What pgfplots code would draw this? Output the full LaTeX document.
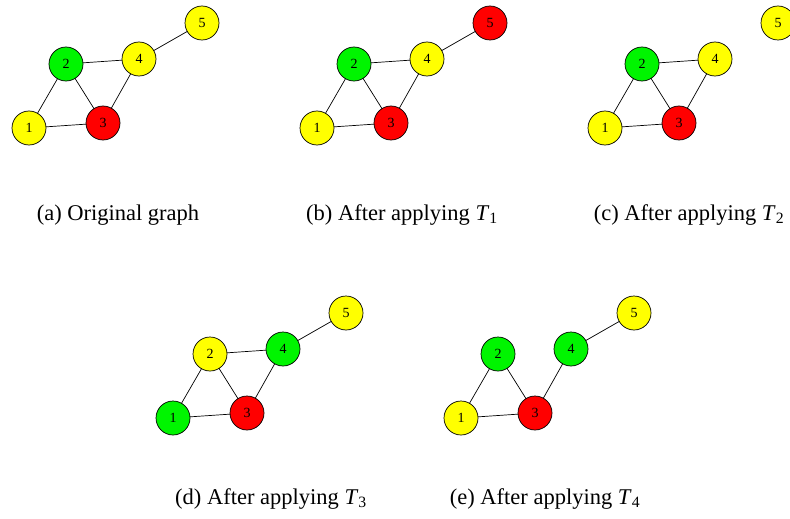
\documentclass[border=0pt]{standalone}
\usepackage{fontspec}
\setmainfont{Liberation Serif}
\usepackage{pgfplots}
\pgfplotsset{compat=1.18}
\definecolor{ny}{RGB}{255,255,0}
\definecolor{ng}{RGB}{0,245,0}
\definecolor{nr}{RGB}{255,0,0}
\pgfplotsset{
  gnode/.style={only marks, mark=*, mark size=17pt,
    mark options={fill=#1, draw=black, line width=0.7pt},
    point meta=explicit symbolic, nodes near coords,
    nodes near coords align=center,
    every node near coord/.append style={font=\fontsize{14}{14}\selectfont, text=black, anchor=center}},
}
\tikzset{figcaption/.style={anchor=base, font=\fontsize{22.5}{27}\selectfont}}
\begin{document}
\begin{tikzpicture}
\begin{axis}[
  scale only axis, width=790pt, height=519pt,
  xmin=0, xmax=790, ymin=0, ymax=519, y dir=reverse,
  hide axis, clip marker paths=true,
  unbounded coords=jump,
]
% edges
\addplot[black, line width=0.7pt, mark=none] coordinates {
 (29,128) (66,64) (103,123) (29,128) (nan,nan)
 (66,64) (139,59) (103,123) (nan,nan)
 (139,59) (202,23) (nan,nan)
 (317,128) (354,64) (391,123) (317,128) (nan,nan)
 (354,64) (427,59) (391,123) (nan,nan)
 (427,59) (490,23) (nan,nan)
 (605,128) (642,64) (679,123) (605,128) (nan,nan)
 (642,64) (715,59) (679,123) (nan,nan)
 (173,418) (210,354) (247,413) (173,418) (nan,nan)
 (210,354) (283,349) (247,413) (nan,nan)
 (283,349) (346,313) (nan,nan)
 (461,418) (498,354) (535,413) (461,418) (nan,nan)
 (535,413) (571,349) (634,313)
};
% yellow nodes
\addplot[gnode=ny] table[meta=l, row sep=\\] {
x y l\\
29 128 1\\ 139 59 4\\ 202 23 5\\
317 128 1\\ 427 59 4\\
605 128 1\\ 715 59 4\\ 778 23 5\\
210 354 2\\ 346 313 5\\
461 418 1\\ 634 313 5\\
};
% green nodes
\addplot[gnode=ng] table[meta=l, row sep=\\] {
x y l\\
66 64 2\\ 354 64 2\\ 642 64 2\\
173 418 1\\ 283 349 4\\
498 354 2\\ 571 349 4\\
};
% red nodes
\addplot[gnode=nr] table[meta=l, row sep=\\] {
x y l\\
103 123 3\\ 391 123 3\\ 490 23 5\\ 679 123 3\\
247 413 3\\ 535 413 3\\
};
\node[figcaption] at (axis cs:118,220) {(a) Original graph};
\node[figcaption] at (axis cs:402,220) {(b) After applying \textit{T}\textsubscript{1}};
\node[figcaption] at (axis cs:689,220) {(c) After applying \textit{T}\textsubscript{2}};
\node[figcaption] at (axis cs:271,504) {(d) After applying \textit{T}\textsubscript{3}};
\node[figcaption] at (axis cs:545,504) {(e) After applying \textit{T}\textsubscript{4}};
\end{axis}
\pgfresetboundingbox
\path (current axis.south west) rectangle (current axis.north east);
\end{tikzpicture}
\end{document}
